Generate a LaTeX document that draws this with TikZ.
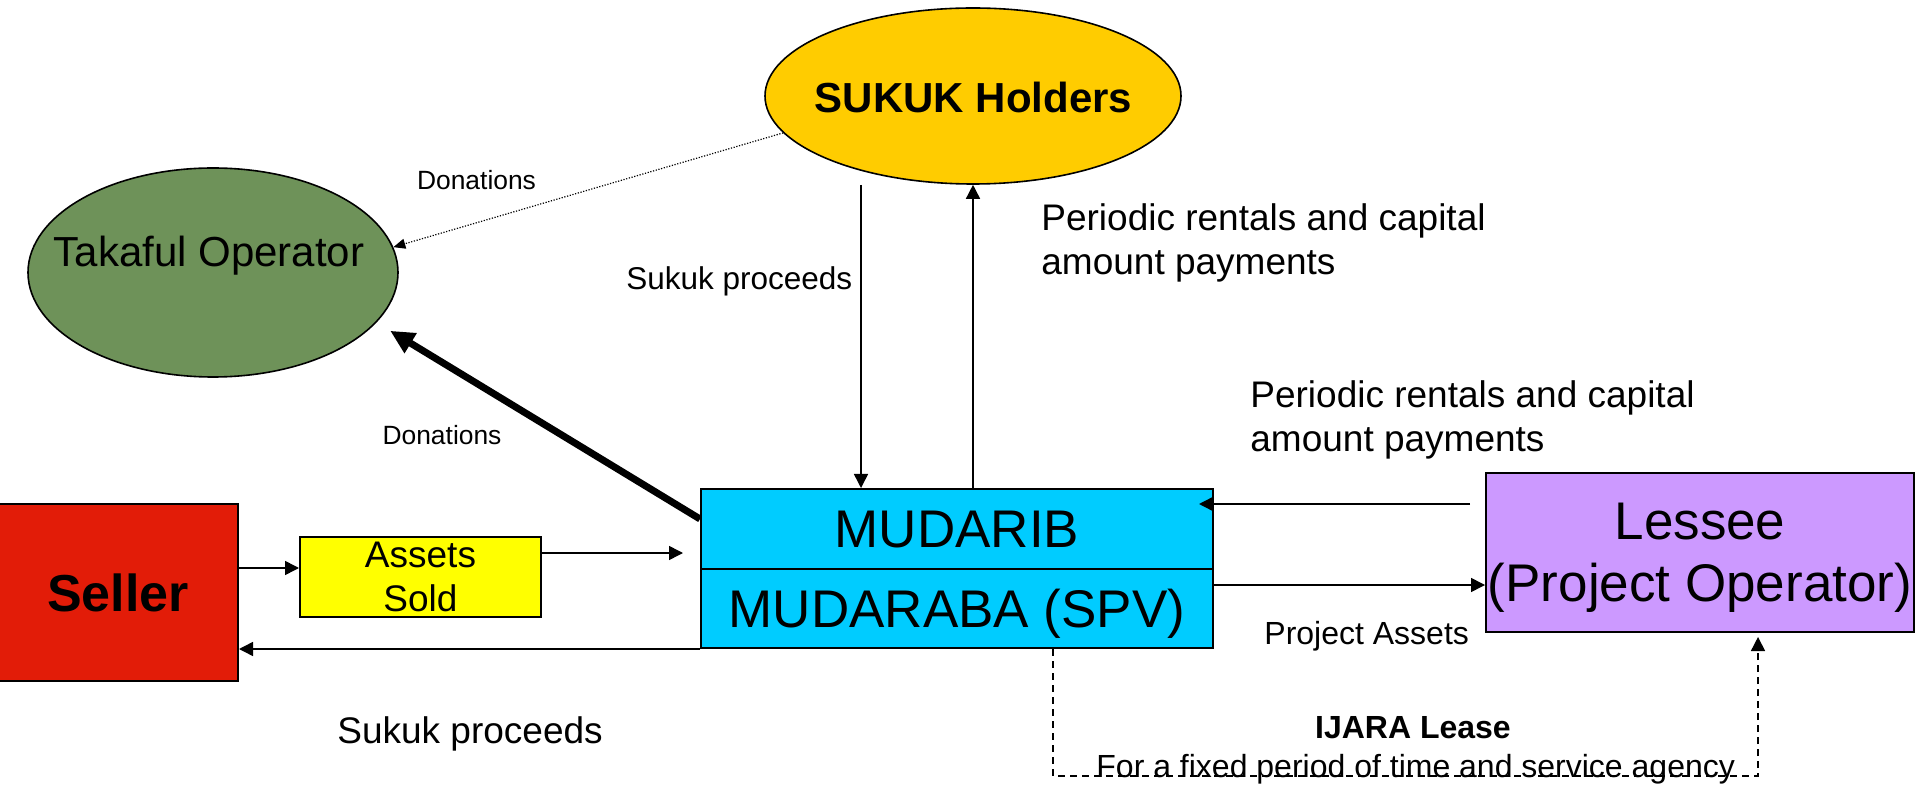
\documentclass[tikz,border=0pt]{standalone}
\usepackage{fontspec}
\setmainfont{Liberation Sans}
\usetikzlibrary{shapes.geometric,arrows.meta,calc}
\definecolor{sukukcol}{RGB}{255,204,0}
\definecolor{takafulcol}{RGB}{110,146,89}
\definecolor{sellercol}{RGB}{226,28,8}
\definecolor{assetcol}{RGB}{255,255,0}
\definecolor{mudcol}{RGB}{0,204,255}
\definecolor{lesseecol}{RGB}{204,153,255}
\begin{document}
\begin{tikzpicture}[x=0.5pt,y=-0.5pt,
  box/.style={draw=black,line width=1pt,inner sep=0pt,align=center,text depth=0pt},
  oval/.style={ellipse,draw=black,line width=0.8pt,inner sep=0pt},
  conn/.style={line width=0.75pt,-{Triangle[length=7pt,width=7pt]}},
  lbl/.style={inner sep=0pt},
  bigfont/.style={font=\fontsize{26.5}{31}\selectfont},
  midfont/.style={font=\fontsize{18.5}{22}\selectfont},
  smallfont/.style={font=\fontsize{16}{19}\selectfont},
]
\useasboundingbox (0,0) rectangle (1915,785);

% nodes
\node[oval,fill=sukukcol,minimum width=208pt,minimum height=88pt] (sukuk) at (973,96) {};
\node[lbl,font=\fontsize{21}{25}\selectfont\bfseries,text depth=0pt] (sukuktxt) at (973.5,97.5) {SUKUK Holders};
\node[oval,fill=takafulcol,minimum width=185pt,minimum height=104.5pt] (takaful) at (213,272.5) {};
\node[lbl,anchor=base,font=\fontsize{21}{25}\selectfont] (takafultxt) at (209,267) {Takaful Operator};

\node[box,fill=sellercol,minimum width=120pt,minimum height=88.5pt,
      font=\fontsize{26}{31}\selectfont\bfseries] (seller) at (118,592.5) {Seller};
\node[box,fill=assetcol,minimum width=120.5pt,minimum height=40pt,midfont] (asold) at (420.5,577) {Assets\\Sold};
\node[box,fill=mudcol,minimum width=256pt,minimum height=40pt,bigfont] (mudarib) at (957,529) {MUDARIB};
\node[box,fill=mudcol,minimum width=256pt,minimum height=39.5pt,bigfont] (mudaraba) at (957,608.5) {MUDARABA (SPV)};
\node[box,fill=lesseecol,minimum width=214pt,minimum height=79.5pt,bigfont] (lessee) at (1700,552.5) {Lessee\\(Project Operator)};

% labels
\node[lbl,anchor=base,font=\fontsize{13.2}{16}\selectfont] (don1) at (476.5,190) {Donations};
\node[lbl,anchor=base,font=\fontsize{13.2}{16}\selectfont] (don2) at (442,445) {Donations};
\node[lbl,anchor=base west,font=\fontsize{15.75}{19}\selectfont] (skp1) at (626,290) {Sukuk proceeds};
\node[lbl,anchor=north west,align=left,midfont] (per1) at (1041,203) {Periodic rentals and capital\\amount payments};
\node[lbl,anchor=north west,align=left,midfont] (per2) at (1250,380) {Periodic rentals and capital\\amount payments};
\node[lbl,anchor=base west,smallfont] (pa) at (1264,644) {Project Assets};
\node[lbl,anchor=base west,midfont] (skp2) at (337,743) {Sukuk proceeds};
\node[lbl,anchor=base,font=\fontsize{16}{19}\selectfont\bfseries] (ijara) at (1413,738) {IJARA Lease};
\node[lbl,anchor=base west,smallfont] (fixed) at (1096,777) {For a fixed period of time and service agency};

% connectors
\draw[conn] ([yshift=12.25pt]seller.east) -- ([yshift=4.5pt]asold.west);
\draw[conn] ([yshift=12pt]asold.east) -- ([xshift=-8.5pt,yshift=-12pt]mudarib.west);
\draw[conn] (mudaraba.south west) -- (mudaraba.south west -| seller.east);
\draw[conn] ([xshift=-56pt]sukuk.south) -- ([xshift=-48pt]mudarib.north);
\draw[conn] (mudarib.north -| sukuk.south) -- (sukuk.south);
\draw[line width=0.6pt,dash pattern=on 0.6pt off 0.8pt,-{Triangle[length=6pt,width=5pt]}]
  (sukuk.191.8) -- (takaful.8);
\draw[line width=3.5pt,shorten >=8pt,-{Triangle[length=12pt,width=11pt]}]
  ([yshift=5pt]mudarib.west) -- (takaful.-17.7);
\draw[conn] ([xshift=-7.5pt,yshift=24.25pt]lessee.west) -- ([xshift=-7.5pt,yshift=24.25pt]lessee.west -| mudarib.east);
\draw[conn] ([yshift=11.75pt]mudaraba.east) -- ([yshift=11.75pt]mudaraba.east -| lessee.west);
\coordinate (lb) at (1053,776);
\coordinate (rb) at (1758,776);
\draw[line width=0.75pt,dash pattern=on 3.5pt off 2.5pt,shorten >=2pt,-{Triangle[length=7pt,width=7pt]}]
  (mudaraba.south -| lb) -- (lb) -- (rb) -- (rb |- lessee.south);
\end{tikzpicture}
\end{document}
